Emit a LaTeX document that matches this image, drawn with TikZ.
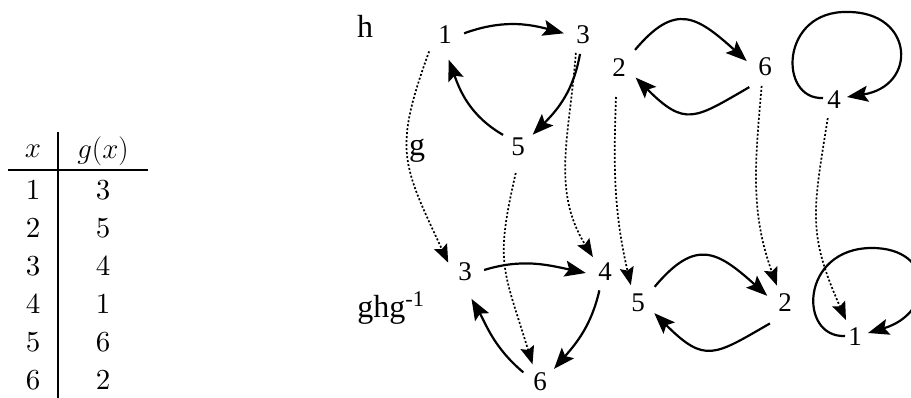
\RequirePackage{fix-cm}
\documentclass[tikz,border=0pt]{standalone}
\usepackage{fontspec}
\setmainfont{Liberation Serif}
\newfontfamily\lmten{lmroman10-regular.otf}
\usetikzlibrary{arrows.meta,calc}
\begin{document}
\begin{tikzpicture}[x=1pt,y=1pt,
  dig/.style={circle,minimum size=38pt,inner sep=0pt,font=\fontsize{27}{31}\selectfont},
  lab/.style={inner sep=0pt,font=\fontsize{32}{37}\selectfont},
  tab/.style={inner sep=0pt,font=\lmten\fontsize{29}{34}\selectfont},
  arr/.style={line width=2.2pt,-{Stealth[length=21pt,width=16pt,inset=4pt]}},
  gmap/.style={line width=1.7pt,dash pattern=on 2pt off 2pt,-{Stealth[length=18pt,width=14pt,inset=3pt]}},
  rulestyle/.style={line width=1.4pt}]
\useasboundingbox (0,0) rectangle (911,398);
% table
\draw[rulestyle] (58,266) -- (58,-2);
\draw[rulestyle] (8,228) -- (148,228);
\node[tab] (hx) at (33,247) {$x$};
\node[tab] (hg) at (103,247) {$g(x)$};
\foreach \a/\b [count=\i] in {1/3,2/5,3/4,4/1,5/6,6/2} {
  \node[tab] (ra\i) at (33,{246-38*\i}) {\a};
  \node[tab] (rb\i) at (103,{246-38*\i}) {\b};
}
% labels
\node[lab] (lh) at (365,372) {h};
\node[lab] (lg) at (417,247) {g};
\node[lab] (lghg) at (391,90) {ghg\textsuperscript{-1}};
% top nodes
\node[dig] (t1) at (445,363) {1};
\node[dig] (t3) at (583,363) {3};
\node[dig] (t5) at (518,251) {5};
\node[dig] (t2) at (619,330) {2};
\node[dig] (t6) at (765,331) {6};
\node[dig] (t4) at (834,298) {4};
% bottom nodes
\node[dig] (b3) at (465,126) {3};
\node[dig] (b4) at (605,126) {4};
\node[dig] (b6) at (540,16) {6};
\node[dig] (b5) at (638,95) {5};
\node[dig] (b2) at (785,95) {2};
\node[dig] (b1) at (855,61) {1};
% top arrows
\draw[arr] (t1.5) to[out=20,in=165] (t3.175);
\draw[arr] (t3.261) to[out=260,in=45] (t5.40);
\draw[arr,shorten >=6pt] (t5.141) to[out=150,in=-70] (t1.-85);
\draw[arr,shorten <=5pt] (t2.48) to[out=50,in=138,looseness=1.5] (t6.162);
\draw[arr,shorten <=7pt] (t6.240) to[out=210,in=-45,looseness=1.5] (t2.-30);
\draw[arr] ($(t4)+(-11,2)$) .. controls ($(t4)+(-56,0)$) and ($(t4)+(-54,90)$) .. ($(t4)+(14,88)$)
  .. controls ($(t4)+(80,88)$) and ($(t4)+(84,14)$) .. ($(t4)+(13,3)$);
% bottom arrows
\draw[arr] (b3.6) to[out=17,in=168] (b4.183);
\draw[arr] (b4.253) to[out=257,in=49] (b6.43);
\draw[arr,shorten >=9pt] (b6.150) to[out=140,in=-60] (b3.-84);
\draw[arr,shorten <=4pt] (b5.43) to[out=50,in=138,looseness=1.5] (b2.158);
\draw[arr,shorten <=7pt] (b2.242) to[out=210,in=-45,looseness=1.5] (b5.-32);
\draw[arr] ($(b1)+(-10,1)$) .. controls ($(b1)+(-57,-1)$) and ($(b1)+(-55,89)$) .. ($(b1)+(17,89)$)
  .. controls ($(b1)+(80,89)$) and ($(b1)+(80,24)$) .. ($(b1)+(13,4)$);
% g mapping
\draw[gmap,shorten <=4pt] (t1.221) to[out=250,in=115,looseness=1.3] (b3.151);
\draw[gmap] (t3.248) to[out=266,in=122] (b4.129);
\draw[gmap,shorten <=7pt] (t5.268) to[out=257,in=107,looseness=1.3] (b6.113);
\draw[gmap,shorten <=10pt] (t2.262) to[out=268,in=103] (b5.112);
\draw[gmap] (t6.260) to[out=265,in=110] (b2.115);
\draw[gmap] (t4.251) to[out=261,in=114,looseness=1.2] (b1.118);
\end{tikzpicture}
\end{document}
